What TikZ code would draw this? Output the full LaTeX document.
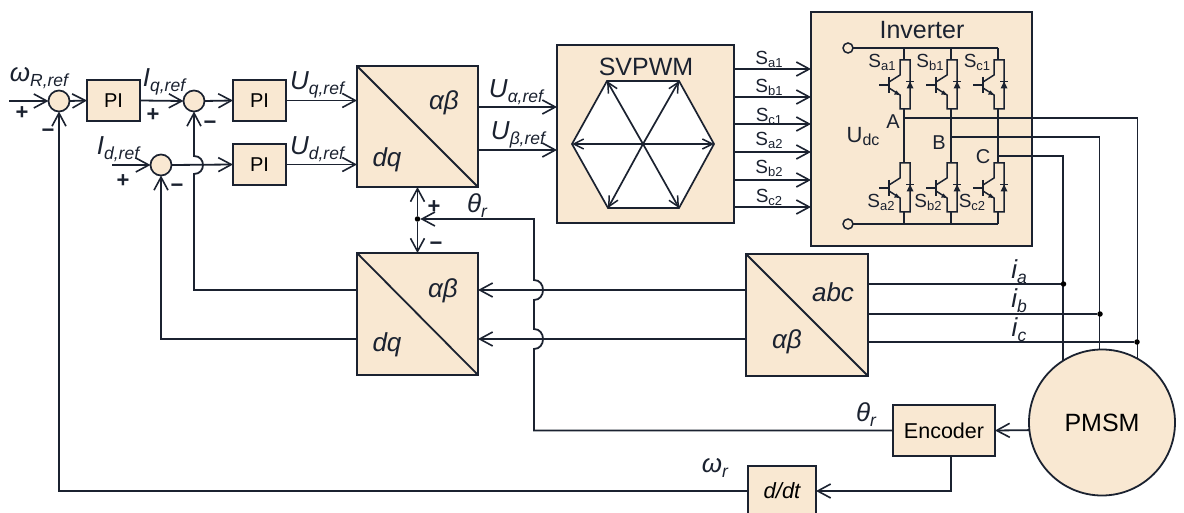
\documentclass[tikz,border=0pt]{standalone}
\usepackage{fontspec}
\setmainfont{Liberation Sans}
\usetikzlibrary{arrows.meta,calc}
\definecolor{boxfill}{HTML}{F9E8D2}
\definecolor{ink}{HTML}{1B2230}
\newcommand{\sig}[2]{{\fontsize{26pt}{26pt}\selectfont\itshape #1\raisebox{-5pt}{\fontsize{17.5pt}{17.5pt}\selectfont #2}}}
\newcommand{\swn}[2]{{\fontsize{19pt}{19pt}\selectfont #1\raisebox{-3pt}{\fontsize{13pt}{13pt}\selectfont #2}}}
\tikzset{
  wire/.style={draw=ink,line width=1.8pt,line join=miter},
  arr/.style={wire,-{Straight Barb[length=13pt,width=14pt,line width=1.6pt]}},
  harr/.style={draw=ink,line width=1.7pt,-{Straight Barb[length=10pt,width=10pt,line width=1.5pt]}},
  block/.style={draw=ink,line width=1.8pt,fill=boxfill,rectangle,inner sep=0pt,outer sep=0pt},
  summer/.style={draw=ink,line width=1.7pt,fill=boxfill,circle,minimum size=21pt,inner sep=0pt,outer sep=0pt},
  lab/.style={inner sep=0pt,outer sep=0pt,text=ink},
  sign/.style={lab,font=\fontsize{22pt}{22pt}\selectfont\bfseries},
  bt/.style={lab,font=\fontsize{26pt}{26pt}\selectfont\itshape},
  jdot/.style={circle,fill=black,minimum size=5.5pt,inner sep=0pt,outer sep=0pt},
  term/.style={circle,draw=ink,line width=1.5pt,fill=boxfill,minimum size=10pt,inner sep=0pt,outer sep=0pt},
}
\newcommand{\igbt}[2]{%
  \begin{scope}[shift={(#1,#2)}]
    \draw[wire,line width=1.5pt] (-25,0) -- (-15,0);
    \draw[wire,line width=2.2pt] (-15,-8) -- (-15,8);
    \draw[wire,line width=1.5pt] (-15,-3) -- (-4,-10) -- (-4,-25) -- (6,-25) -- (6,24) -- (-4,24) -- (-4,10) -- (-15,3);
    \fill[ink] (-4,10) -- (-10,9.5) -- (-7.5,5.5) -- cycle;
    \fill[ink] (2.5,3.5) -- (9.5,3.5) -- (6,-3.5) -- cycle;
    \draw[ink,line width=1.5pt] (2,-3.5) -- (10,-3.5);
  \end{scope}}
\begin{document}
\begin{tikzpicture}[x=1pt,y=-1pt]
\useasboundingbox[fill=white] (0,0) rectangle (1184,513);

% blocks
\node[summer] (s1) at (59,101) {};
\node[summer] (s2) at (194,101) {};
\node[summer] (s3) at (161,165) {};
\node[block,minimum width=53pt,minimum height=41pt,font=\fontsize{20pt}{20pt}\selectfont] (pi1) at (113.5,100.5) {PI};
\node[block,minimum width=53pt,minimum height=41pt,font=\fontsize{20pt}{20pt}\selectfont] (pi2) at (259.5,100.5) {PI};
\node[block,minimum width=53pt,minimum height=41pt,font=\fontsize{20pt}{20pt}\selectfont] (pi3) at (259.5,164.5) {PI};
\node[block,minimum width=121pt,minimum height=121pt] (up) at (417.5,126.5) {};
\node[block,minimum width=121pt,minimum height=122pt] (lo) at (417.5,314) {};
\node[block,minimum width=122pt,minimum height=122pt] (abc) at (807,315) {};
\node[block,minimum width=177pt,minimum height=178pt] (svm) at (645.5,134) {};
\node[block,minimum width=221pt,minimum height=234pt] (inv) at (921.5,129) {};
\node[block,circle,minimum size=146pt,font=\fontsize{25pt}{25pt}\selectfont] (pmsm) at (1102,422.5) {PMSM};
\node[block,minimum width=102pt,minimum height=51pt,font=\fontsize{21.5pt}{21.5pt}\selectfont] (enc) at (944,430.5) {Encoder};
\node[block,minimum width=68pt,minimum height=50pt,font=\fontsize{22pt}{22pt}\selectfont\itshape] (ddt) at (782,491) {d/dt};

\draw[wire] (up.north west) -- (up.south east);
\draw[wire] (lo.north west) -- (lo.south east);
\draw[wire] (abc.north west) -- (abc.south east);

% forward path
\coordinate (win) at (9,101);
\coordinate (idin) at (112,165);
\draw[arr] (win) -- (s1.west);
\draw[arr] (s1.east) -- (pi1.west);
\draw[arr] (pi1.east) -- (s2.west);
\draw[arr] (s2.east) -- (pi2.west);
\draw[arr] (idin) -- (s3.west);
\draw[arr] (s3.east) -- (pi3.west);
\draw[arr] (pi2.east) -- (pi2.east -| up.west);
\draw[arr] (pi3.east) -- (pi3.east -| up.west);
\coordinate (ua) at (478,107);
\coordinate (ub) at (478,150);
\draw[arr] (ua) -- (ua -| svm.west);
\draw[arr] (ub) -- (ub -| svm.west);

% SVPWM outputs
\foreach \n/\yy in {1/69,2/97,3/124,4/152,5/180,6/207}{
  \coordinate (so\n) at (734,\yy);
  \draw[arr] (so\n) -- (so\n -| inv.west);
}

% hexagon
\coordinate (hc) at (643,144);
\coordinate (h1) at (714,144);
\coordinate (h2) at (679,81);
\coordinate (h3) at (607,81);
\coordinate (h4) at (572,144);
\coordinate (h5) at (608,208);
\coordinate (h6) at (679,208);
\draw[fill=white,draw=ink,line width=1.7pt] (h1) -- (h2) -- (h3) -- (h4) -- (h5) -- (h6) -- cycle;
\foreach \i in {1,...,6}{\draw[harr] (hc) -- (h\i);}

% feedback
\draw[arr] (ddt.west) -| (s1.south);
\coordinate (loa) at (357,290);
\coordinate (lob) at (357,339);
\draw[arr] (loa) -| (194,174) .. controls +(12,0) and +(12,0) .. (194,156) -- (s2.south);
\draw[arr] (lob) -| (s3.south);

% abc to dq
\coordinate (abl1) at (746,290);
\coordinate (abl2) at (746,339);
\draw[arr] (abl1) -- (abl1 -| lo.east);
\draw[arr] (abl2) -- (abl2 -| lo.east);

% theta
\node[jdot] (jt) at (417.5,219) {};
\draw[arr] (jt) -- (up.south);
\draw[arr] (jt) -- (lo.north);
\draw[arr] (enc.west) -- (534,430.5) -- (534,349) .. controls +(12,0) and +(12,0) .. (534,329)
  -- (534,300) .. controls +(12,0) and +(12,0) .. (534,280) -- (534,219) -- (jt);
\draw[arr] (pmsm.186) -- (enc.east);
\coordinate (encb) at ([xshift=7pt]enc.south);
\draw[arr] (encb) |- (ddt.east);

% inverter internals
\node[term] (tp) at (848,48) {};
\node[term] (tn) at (848,224) {};
\draw[wire,line width=1.5pt] (tp) -- (998,48);
\draw[wire,line width=1.5pt] (tn) -- (998,224);
\foreach \xx in {904,951,998}{
  \igbt{\xx}{85}
  \igbt{\xx}{188}
  \draw[wire,line width=1.5pt] (\xx,48) -- (\xx,60);
  \draw[wire,line width=1.5pt] (\xx,109) -- (\xx,163);
  \draw[wire,line width=1.5pt] (\xx,212) -- (\xx,224);
}
\coordinate (pa) at (904,118);
\coordinate (pb) at (951,137);
\coordinate (pc) at (998,156);
\draw[wire] (pa) -| (pmsm.61);
\draw[wire] (pb) -| (pmsm.92);
\draw[wire] (pc) -| (pmsm.122);

% current sensing
\node[jdot] (da) at (1063.5,284) {};
\node[jdot] (db) at (1100,314) {};
\node[jdot] (dc) at (1137,342) {};
\coordinate (abr1) at (868,284);
\coordinate (abr2) at (868,314);
\coordinate (abr3) at (868,342);
\draw[wire] (abr1) -- (da);
\draw[wire] (abr2) -- (db);
\draw[wire] (abr3) -- (dc);

% labels
\node[lab] (t1) at (39,78) {\sig{ω}{R,ref}};
\node[lab] (t2) at (164,82) {\sig{I}{q,ref}};
\node[lab] (t3) at (317,85) {\sig{U}{q,ref}};
\node[lab] (t4) at (118,149) {\sig{I}{d,ref}};
\node[lab] (t5) at (317,149) {\sig{U}{d,ref}};
\node[lab] (t6) at (516,92) {\sig{U}{α,ref}};
\node[lab] (t7) at (518,135) {\sig{U}{β,ref}};
\node[bt] (b1) at (444,103) {αβ};
\node[bt] (b2) at (387,160) {dq};
\node[bt] (b3) at (443,291) {αβ};
\node[bt] (b4) at (387,345) {dq};
\node[bt] (b5) at (833,292) {abc};
\node[bt] (b6) at (787,342) {αβ};
\node[lab] (t8) at (477,206) {\sig{θ}{r}};
\node[lab] (t9) at (866,415) {\sig{θ}{r}};
\node[lab] (t10) at (715,468) {\sig{ω}{r}};
\node[lab] (t11) at (1019,272) {\sig{i}{a}};
\node[lab] (t12) at (1019,301) {\sig{i}{b}};
\node[lab] (t13) at (1019,330) {\sig{i}{c}};
\node[sign] (p1) at (22,113) {+};
\node[sign] (m1) at (48,133) {−};
\node[sign] (p2) at (153,115) {+};
\node[sign] (m2) at (210,125) {−};
\node[sign] (p3) at (123,181) {+};
\node[sign] (m3) at (177,188) {−};
\node[sign] (p4) at (434,207) {+};
\node[sign] (m4) at (436,246) {−};
\node[lab,font=\fontsize{25pt}{25pt}\selectfont] (tsv) at (646,67) {SVPWM};
\node[lab,font=\fontsize{25pt}{25pt}\selectfont] (tin) at (922,30) {Inverter};
\node[lab] (s1o) at (769,59) {\swn{S}{a1}};
\node[lab] (s2o) at (769,87) {\swn{S}{b1}};
\node[lab] (s3o) at (769,116) {\swn{S}{c1}};
\node[lab] (s4o) at (769,140) {\swn{S}{a2}};
\node[lab] (s5o) at (769,168) {\swn{S}{b2}};
\node[lab] (s6o) at (769,197) {\swn{S}{c2}};
\node[lab] (s1i) at (882,62) {\swn{S}{a1}};
\node[lab] (s2i) at (930,62) {\swn{S}{b1}};
\node[lab] (s3i) at (977,62) {\swn{S}{c1}};
\node[lab] (s4i) at (881,202) {\swn{S}{a2}};
\node[lab] (s5i) at (928,202) {\swn{S}{b2}};
\node[lab] (s6i) at (972,202) {\swn{S}{c2}};
\node[lab,font=\fontsize{20pt}{20pt}\selectfont] (la) at (893,122) {A};
\node[lab,font=\fontsize{20pt}{20pt}\selectfont] (lb) at (939,143) {B};
\node[lab,font=\fontsize{20pt}{20pt}\selectfont] (lc) at (983,157) {C};
\node[lab] (ud) at (863,137) {{\fontsize{22pt}{22pt}\selectfont U\raisebox{-3pt}{\fontsize{16pt}{16pt}\selectfont dc}}};
\end{tikzpicture}
\end{document}
